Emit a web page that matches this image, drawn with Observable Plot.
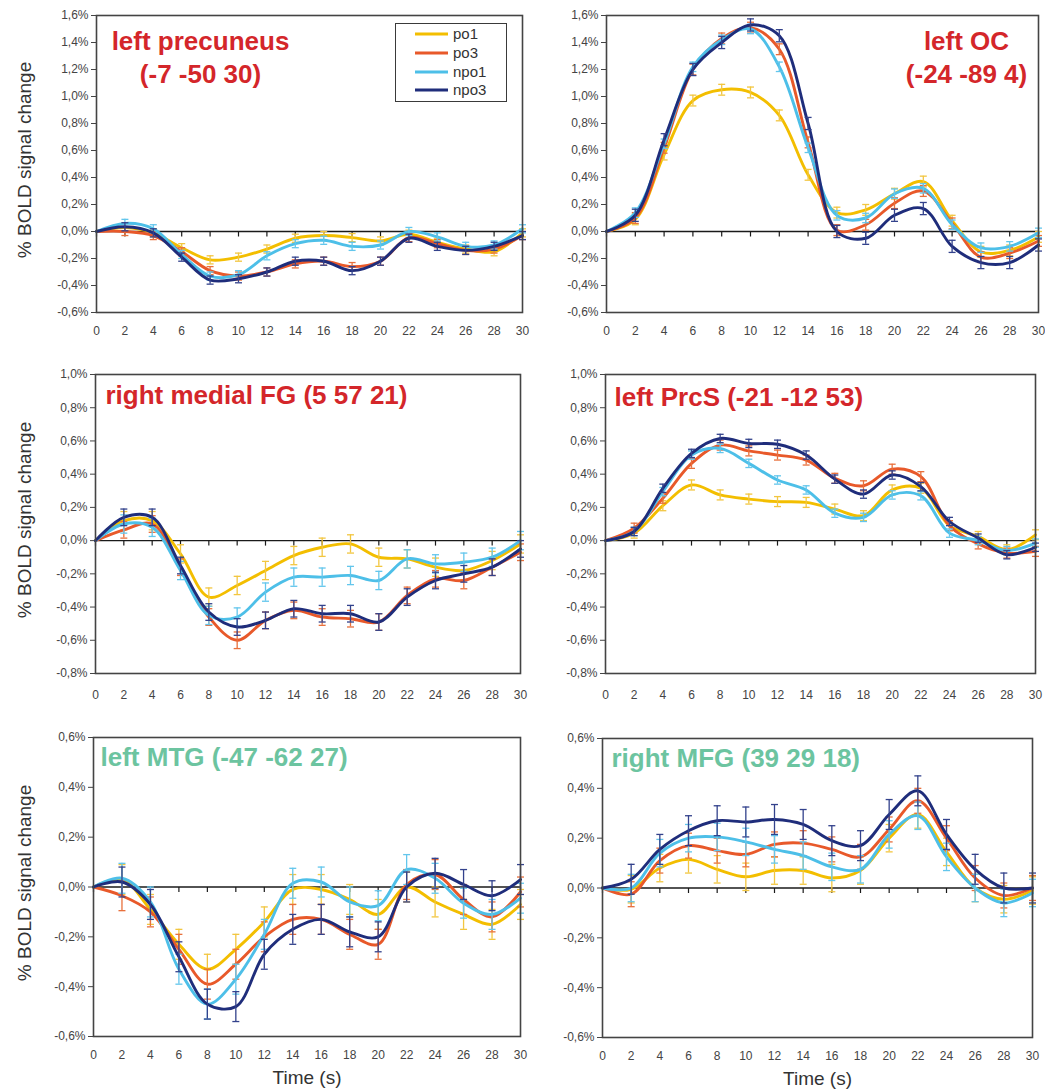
<!DOCTYPE html>
<html>
<head>
<meta charset="utf-8">
<script src="https://cdn.jsdelivr.net/npm/d3@7"></script>
<script src="https://cdn.jsdelivr.net/npm/@observablehq/plot@0.6"></script>
<style>
  body { margin: 0; background: #fff; font-family: "Liberation Sans", Arial, sans-serif; }
  #fig { position: relative; width: 1045px; height: 1092px; overflow: hidden; }
  #fig svg { position: absolute; overflow: visible; background: transparent; }
  .legend { position: absolute; left: 395px; top: 23px; width: 110px; height: 77px;
            border: 1.5px solid #3a3a3a; background: #fff; font-size: 15px; color: #333; }
  .legend .row { position: absolute; left: 0; height: 18px; display: flex; align-items: center; }
  .legend .row span { margin-left: 5px; line-height: 18px; }
</style>
</head>
<body>
<div id="fig"></div>
<script>
// Time axis (s) and conditions
const times = [0, 2, 4, 6, 8, 10, 12, 14, 16, 18, 20, 22, 24, 26, 28, 30];
const seriesNames = ["po1", "po3", "npo1", "npo3"];
const seriesColors = ["#F3BE00", "#E8592A", "#4DBFE8", "#1F2D7B"];
const errorColors = ["#F2C640", "#E8703C", "#63C6EC", "#33428C"];

// y tick values (% BOLD signal change)
const ticksTop = [-0.6, -0.4, -0.2, 0, 0.2, 0.4, 0.6, 0.8, 1.0, 1.2, 1.4, 1.6];
const ticksMid = [-0.8, -0.6, -0.4, -0.2, 0, 0.2, 0.4, 0.6, 0.8, 1.0];
const ticksLow = [-0.6, -0.4, -0.2, 0, 0.2, 0.4, 0.6];

// left precuneus (-7 -50 30)
const precuneusPo1  = [0, 0.03, -0.01, -0.12, -0.21, -0.19, -0.13, -0.05, -0.03, -0.045, -0.07, -0.02, -0.08, -0.13, -0.15, -0.01];
const precuneusPo3  = [0, 0.00, -0.03, -0.15, -0.29, -0.33, -0.30, -0.24, -0.22, -0.26, -0.22, -0.045, -0.09, -0.14, -0.13, -0.03];
const precuneusNpo1 = [0, 0.06, 0.02, -0.17, -0.33, -0.32, -0.18, -0.09, -0.065, -0.11, -0.10, 0.0, -0.04, -0.11, -0.10, 0.02];
const precuneusNpo3 = [0, 0.035, -0.01, -0.19, -0.36, -0.35, -0.30, -0.22, -0.22, -0.29, -0.22, -0.05, -0.11, -0.14, -0.11, -0.03];
const precuneusErr  = [0.03, 0.03, 0.03, 0.03];

// left OC (-24 -89 4)
const ocPo1  = [0, 0.09, 0.57, 0.97, 1.05, 1.03, 0.86, 0.42, 0.14, 0.16, 0.28, 0.37, 0.08, -0.15, -0.14, -0.04];
const ocPo3  = [0, 0.10, 0.62, 1.20, 1.43, 1.51, 1.35, 0.66, 0.01, 0.05, 0.21, 0.30, 0.06, -0.19, -0.16, -0.07];
const ocNpo1 = [0, 0.14, 0.65, 1.22, 1.42, 1.50, 1.22, 0.62, 0.12, 0.10, 0.28, 0.32, 0.05, -0.12, -0.11, -0.01];
const ocNpo3 = [0, 0.12, 0.68, 1.20, 1.40, 1.53, 1.45, 0.80, 0.00, -0.05, 0.12, 0.17, -0.11, -0.23, -0.23, -0.10];
const ocErr  = [0.04, 0.04, 0.035, 0.045];

// right medial FG (5 57 21)
const fgPo1  = [0, 0.12, 0.12, -0.08, -0.34, -0.27, -0.18, -0.09, -0.04, -0.02, -0.10, -0.11, -0.16, -0.18, -0.12, -0.02];
const fgPo3  = [0, 0.065, 0.10, -0.16, -0.46, -0.60, -0.48, -0.42, -0.46, -0.47, -0.49, -0.33, -0.23, -0.24, -0.16, -0.07];
const fgNpo1 = [0, 0.10, 0.08, -0.18, -0.45, -0.46, -0.31, -0.22, -0.22, -0.21, -0.24, -0.11, -0.14, -0.13, -0.10, 0.0];
const fgNpo3 = [0, 0.14, 0.14, -0.15, -0.43, -0.52, -0.48, -0.41, -0.44, -0.44, -0.49, -0.34, -0.24, -0.20, -0.16, -0.05];
const fgErr  = [0.055, 0.05, 0.055, 0.05];

// left PrcS (-21 -12 53)
const prcsPo1  = [0, 0.045, 0.21, 0.335, 0.275, 0.25, 0.235, 0.23, 0.19, 0.15, 0.305, 0.315, 0.09, 0.025, -0.055, 0.035];
const prcsPo3  = [0, 0.075, 0.255, 0.465, 0.575, 0.54, 0.515, 0.485, 0.375, 0.33, 0.43, 0.385, 0.09, -0.02, -0.075, -0.065];
const prcsNpo1 = [0, 0.055, 0.295, 0.515, 0.555, 0.465, 0.365, 0.305, 0.165, 0.14, 0.275, 0.27, 0.045, 0.0, -0.06, -0.015];
const prcsNpo3 = [0, 0.055, 0.315, 0.525, 0.615, 0.585, 0.58, 0.515, 0.37, 0.28, 0.395, 0.325, 0.115, 0.015, -0.085, -0.04];
const prcsErr  = [0.03, 0.03, 0.025, 0.025];

// left MTG (-47 -62 27)
const mtgPo1  = [0, 0.03, -0.09, -0.23, -0.33, -0.25, -0.14, -0.01, -0.01, -0.05, -0.11, 0.0, -0.06, -0.11, -0.15, -0.07];
const mtgPo3  = [0, -0.035, -0.10, -0.25, -0.39, -0.31, -0.20, -0.13, -0.13, -0.19, -0.23, 0.01, 0.05, -0.05, -0.12, -0.02];
const mtgNpo1 = [0, 0.035, -0.06, -0.33, -0.47, -0.37, -0.19, 0.015, 0.02, -0.06, -0.075, 0.07, 0.035, -0.065, -0.11, -0.045];
const mtgNpo3 = [0, 0.02, -0.07, -0.28, -0.47, -0.48, -0.27, -0.17, -0.13, -0.18, -0.20, 0.0, 0.055, 0.01, -0.035, 0.03];
const mtgErr  = [0.06, 0.06, 0.06, 0.06];

// right MFG (39 29 18)
const mfgPo1  = [0, -0.005, 0.08, 0.115, 0.075, 0.045, 0.07, 0.07, 0.04, 0.07, 0.20, 0.295, 0.145, 0.0, -0.045, -0.01];
const mfgPo3  = [0, -0.025, 0.11, 0.17, 0.15, 0.135, 0.175, 0.18, 0.155, 0.125, 0.235, 0.35, 0.20, 0.04, -0.03, 0.0];
const mfgNpo1 = [0, 0.0, 0.14, 0.20, 0.205, 0.185, 0.155, 0.13, 0.085, 0.075, 0.215, 0.29, 0.125, 0.0, -0.06, -0.02];
const mfgNpo3 = [0, 0.035, 0.155, 0.23, 0.27, 0.265, 0.275, 0.255, 0.19, 0.17, 0.295, 0.39, 0.215, 0.075, 0.0, 0.0];
const mfgErr  = [0.055, 0.05, 0.055, 0.06];

const RED = "#D4262A";
const GREEN = "#6CC4A0";
const FONT = "'Liberation Sans', Arial, sans-serif";

// Panel layout: position of each SVG and its margins
const panels = [
  { series: [precuneusPo1, precuneusPo3, precuneusNpo1, precuneusNpo3], err: precuneusErr,
    title: "left precuneus\n(-7 -50 30)", color: RED, anchor: "top-left", textAnchor: "middle", tdx: 104, tdy: 11.5,
    domain: [-0.6, 1.6], ticks: ticksTop, left: 0, top: 0, width: 530, height: 340,
    mt: 15, mr: 8, mb: 28, ml: 96, xpad: 14, ylabel: true, xlabel: false },
  { series: [ocPo1, ocPo3, ocNpo1, ocNpo3], err: ocErr,
    title: "left OC\n(-24 -89 4)", color: RED, anchor: "top-right", textAnchor: "middle", tdx: -72, tdy: 11,
    domain: [-0.6, 1.6], ticks: ticksTop, left: 520, top: 0, width: 525, height: 340,
    mt: 15, mr: 7, mb: 28, ml: 86, xpad: 14, ylabel: false, xlabel: false },
  { series: [fgPo1, fgPo3, fgNpo1, fgNpo3], err: fgErr,
    title: "right medial FG (5 57 21)", color: RED, anchor: "top-left", textAnchor: "start", tdx: 10, tdy: 6.5,
    domain: [-0.8, 1.0], ticks: ticksMid, left: 0, top: 355, width: 530, height: 350,
    mt: 19, mr: 10, mb: 32, ml: 95, xpad: 17, ylabel: true, xlabel: false },
  { series: [prcsPo1, prcsPo3, prcsNpo1, prcsNpo3], err: prcsErr,
    title: "left PrcS (-21 -12 53)", color: RED, anchor: "top-left", textAnchor: "start", tdx: 9, tdy: 8.5,
    domain: [-0.8, 1.0], ticks: ticksMid, left: 520, top: 355, width: 525, height: 350,
    mt: 19, mr: 10, mb: 32, ml: 85, xpad: 17, ylabel: false, xlabel: false },
  { series: [mtgPo1, mtgPo3, mtgNpo1, mtgNpo3], err: mtgErr,
    title: "left MTG (-47 -62 27)", color: GREEN, anchor: "top-left", textAnchor: "start", tdx: 7, tdy: 5,
    domain: [-0.6, 0.6], ticks: ticksLow, left: 0, top: 720, width: 530, height: 372,
    mt: 17, mr: 10, mb: 56, ml: 93, xpad: 14, ylabel: true, xlabel: true },
  { series: [mfgPo1, mfgPo3, mfgNpo1, mfgNpo3], err: mfgErr,
    title: "right MFG (39 29 18)", color: GREEN, anchor: "top-left", textAnchor: "start", tdx: 9, tdy: 5.5,
    domain: [-0.6, 0.6], ticks: ticksLow, left: 520, top: 720, width: 525, height: 372,
    mt: 18, mr: 13, mb: 55, ml: 82, xpad: 14, ylabel: false, xlabel: true }
];

const pct = (d) => (Math.abs(d) < 1e-9 ? 0 : d).toFixed(1).replace(".", ",") + "%";

// small custom symbols: downward tick on the zero line, horizontal error-bar cap
const tickDown = { draw(ctx) { ctx.moveTo(0, 0); ctx.lineTo(0, 5); } };
const cap = { draw(ctx) { ctx.moveTo(-3.5, 0); ctx.lineTo(3.5, 0); } };

const fig = document.getElementById("fig");

for (const p of panels) {
  const marks = [
    Plot.ruleY([0], { stroke: "#1a1a1a", strokeWidth: 1.3 }),
    Plot.dot(times, { x: (d) => d, y: () => 0, symbol: tickDown, stroke: "#1a1a1a", strokeWidth: 1.2, fill: "none" })
  ];

  p.series.forEach((values, s) => {
    const rows = times.map((t, i) => ({ t, v: values[i], lo: values[i] - p.err[s], hi: values[i] + p.err[s] }));
    const bars = rows.filter((r) => r.t > 0);
    marks.push(
      Plot.line(rows, { x: "t", y: "v", curve: "catmull-rom", stroke: seriesColors[s], strokeWidth: 2.9 }),
      Plot.ruleX(bars, { x: "t", y1: "lo", y2: "hi", stroke: errorColors[s], strokeWidth: 1.3 }),
      Plot.dot(bars, { x: "t", y: "lo", symbol: cap, stroke: errorColors[s], strokeWidth: 1.3, fill: "none" }),
      Plot.dot(bars, { x: "t", y: "hi", symbol: cap, stroke: errorColors[s], strokeWidth: 1.3, fill: "none" })
    );
  });

  marks.push(Plot.frame({ stroke: "#444", strokeWidth: 1.6 }));

  marks.push(Plot.text([p.title], {
    text: (d) => d, frameAnchor: p.anchor, textAnchor: p.textAnchor, lineAnchor: "top",
    dx: p.tdx, dy: p.tdy, fontSize: 26, fontWeight: "bold", fill: p.color, lineHeight: 1.27, fontFamily: FONT
  }));

  if (p.ylabel) {
    marks.push(Plot.text(["% BOLD signal change"], {
      text: (d) => d, frameAnchor: "left", textAnchor: "middle", lineAnchor: "middle",
      rotate: -90, dx: 24 - p.ml, dy: -4,
      fontSize: 19, fill: "#333", fontFamily: FONT
    }));
  }
  if (p.xlabel) {
    marks.push(Plot.text(["Time (s)"], {
      text: (d) => d, frameAnchor: "bottom", textAnchor: "middle", dy: 41, lineAnchor: "middle",
      fontSize: 19, fill: "#333", fontFamily: FONT
    }));
  }

  const chart = Plot.plot({
    width: p.width,
    height: p.height,
    marginTop: p.mt,
    marginRight: p.mr,
    marginBottom: p.mb,
    marginLeft: p.ml,
    style: { fontFamily: FONT, fontSize: "12px", color: "#444", background: "transparent" },
    x: { domain: [0, 30], ticks: times, tickSize: 0, tickPadding: p.xpad, label: null },
    y: { domain: p.domain, ticks: p.ticks, tickFormat: pct, tickSize: 5, tickPadding: 3, label: null },
    marks
  });
  chart.style.left = p.left + "px";
  chart.style.top = p.top + "px";
  fig.appendChild(chart);
}

// Legend box inside the first panel
const legend = document.createElement("div");
legend.className = "legend";
seriesNames.forEach((name, i) => {
  const row = document.createElement("div");
  row.className = "row";
  row.style.top = (1 + i * 18.8) + "px";
  row.style.left = "19px";
  row.innerHTML = `<svg width="33" height="6" style="position:static"><line x1="0" y1="3" x2="33" y2="3" stroke="${seriesColors[i]}" stroke-width="3"/></svg><span>${name}</span>`;
  legend.appendChild(row);
});
fig.appendChild(legend);
</script>
</body>
</html>
